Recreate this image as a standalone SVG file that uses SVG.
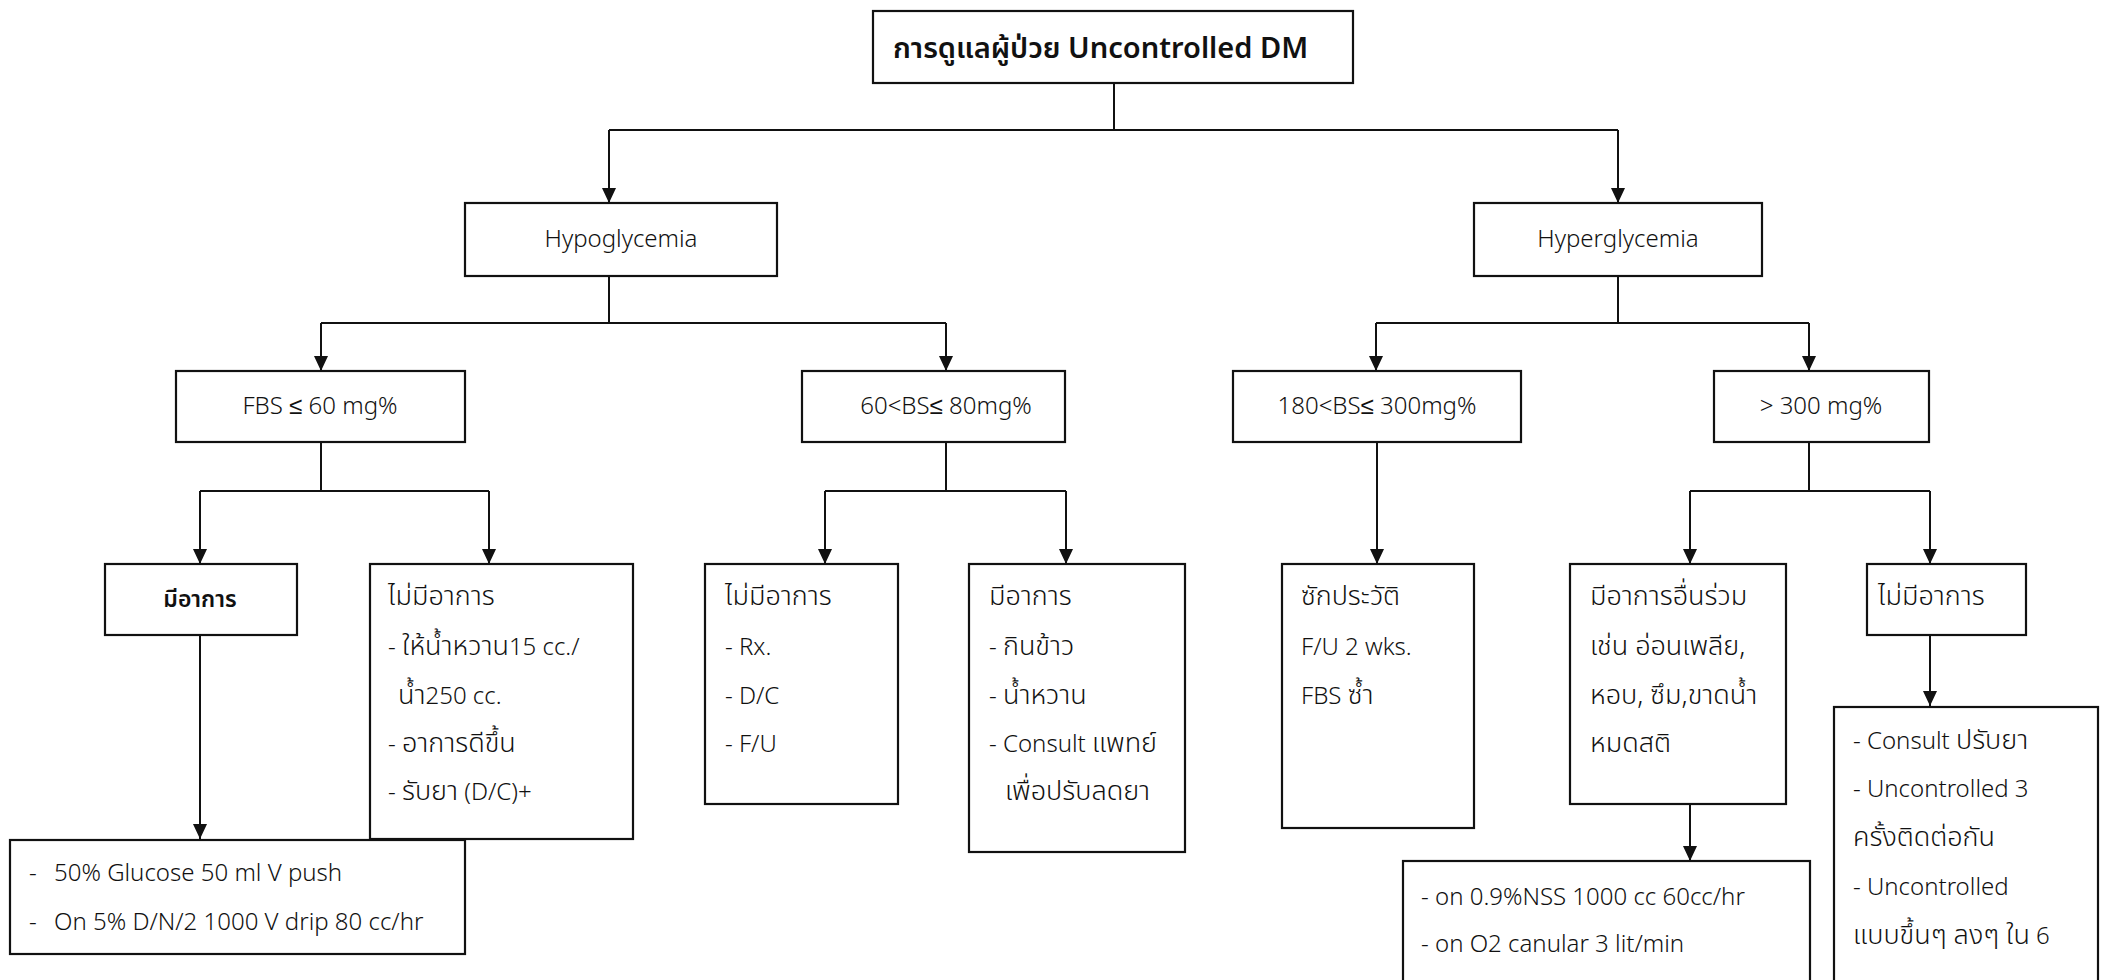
<svg xmlns="http://www.w3.org/2000/svg" width="2109" height="980" viewBox="0 0 2109 980">
<style>
.box{fill:#fff;stroke:#111;stroke-width:2.2}
.t{font-family:"Noto Sans","Noto Sans Thai","Leelawadee UI",sans-serif;font-size:24px;font-weight:300;fill:#111}
.th{font-size:27px}
.c{text-anchor:middle}
.b{font-weight:600;font-size:23px}
.title{font-size:29px;font-weight:600}
.ln{fill:none;stroke:#111;stroke-width:2}
</style>
<defs>
<marker id="ah" viewBox="0 0 15 14" refX="15" refY="7" markerWidth="15" markerHeight="14" markerUnits="userSpaceOnUse" orient="auto">
<path d="M0,0 L15,7 L0,14 Z" fill="#111"/>
</marker>
</defs>
<g id="connectors">
<path class="ln" d="M1114,83 V130 M609,130 H1618"/>
<path class="ln" d="M609,130 V203" marker-end="url(#ah)"/>
<path class="ln" d="M1618,130 V203" marker-end="url(#ah)"/>
<path class="ln" d="M609,276 V323 M321,323 H946"/>
<path class="ln" d="M321,323 V371" marker-end="url(#ah)"/>
<path class="ln" d="M946,323 V371" marker-end="url(#ah)"/>
<path class="ln" d="M1618,276 V323 M1376,323 H1809"/>
<path class="ln" d="M1376,323 V371" marker-end="url(#ah)"/>
<path class="ln" d="M1809,323 V371" marker-end="url(#ah)"/>
<path class="ln" d="M321,442 V491 M200,491 H489"/>
<path class="ln" d="M200,491 V564" marker-end="url(#ah)"/>
<path class="ln" d="M489,491 V564" marker-end="url(#ah)"/>
<path class="ln" d="M946,442 V491 M825,491 H1066"/>
<path class="ln" d="M825,491 V564" marker-end="url(#ah)"/>
<path class="ln" d="M1066,491 V564" marker-end="url(#ah)"/>
<path class="ln" d="M1377,442 V564" marker-end="url(#ah)"/>
<path class="ln" d="M1809,442 V491 M1690,491 H1930"/>
<path class="ln" d="M1690,491 V564" marker-end="url(#ah)"/>
<path class="ln" d="M1930,491 V564" marker-end="url(#ah)"/>
<path class="ln" d="M200,635 V839" marker-end="url(#ah)"/>
<path class="ln" d="M1690,803 V861" marker-end="url(#ah)"/>
<path class="ln" d="M1930,635 V706" marker-end="url(#ah)"/>
</g>
<g id="root">
<rect class="box" x="873" y="11" width="480" height="72"/>
<text class="t title" x="893" y="58">การดูแลผู้ป่วย Uncontrolled DM</text>
</g>
<g id="hypo">
<rect class="box" x="465" y="203" width="312" height="73"/>
<text class="t c" x="621" y="247">Hypoglycemia</text>
</g>
<g id="hyper">
<rect class="box" x="1474" y="203" width="288" height="73"/>
<text class="t c" x="1618" y="247">Hyperglycemia</text>
</g>
<g id="fbs60">
<rect class="box" x="176" y="371" width="289" height="71"/>
<text class="t c" x="320" y="414">FBS ≤ 60 mg%</text>
</g>
<g id="bs60-80">
<rect class="box" x="802" y="371" width="263" height="71"/>
<text class="t c" x="946" y="414">60&lt;BS≤ 80mg%</text>
</g>
<g id="bs180-300">
<rect class="box" x="1233" y="371" width="288" height="71"/>
<text class="t c" x="1377" y="414">180&lt;BS≤ 300mg%</text>
</g>
<g id="bs300">
<rect class="box" x="1714" y="371" width="215" height="71"/>
<text class="t c" x="1821" y="414">&gt; 300 mg%</text>
</g>
<g id="hypo-symptom">
<rect class="box" x="105" y="564" width="192" height="71"/>
<text class="t c b" x="200" y="607">มีอาการ</text>
</g>
<g id="hypo-nosymptom">
<rect class="box" x="370" y="564" width="263" height="275"/>
<text class="t th" x="388" y="605">ไม่มีอาการ</text>
<text class="t" x="388" y="655">- <tspan class="th">ให้น้ำหวาน</tspan>15 cc./</text>
<text class="t" x="398" y="704"><tspan class="th">น้ำ</tspan>250 cc.</text>
<text class="t" x="388" y="752">- <tspan class="th">อาการดีขึ้น</tspan></text>
<text class="t" x="388" y="800">- <tspan class="th">รับยา</tspan> (D/C)+</text>
</g>
<g id="glucose">
<rect class="box" x="10" y="840" width="455" height="114"/>
<text class="t" x="29" y="881">-<tspan x="54">50% Glucose 50 ml V push</tspan></text>
<text class="t" x="29" y="930">-<tspan x="54">On 5% D/N/2 1000 V drip 80 cc/hr</tspan></text>
</g>
<g id="mid-nosymptom">
<rect class="box" x="705" y="564" width="193" height="240"/>
<text class="t th" x="725" y="605">ไม่มีอาการ</text>
<text class="t" x="725" y="655">- Rx.</text>
<text class="t" x="725" y="704">- D/C</text>
<text class="t" x="725" y="752">- F/U</text>
</g>
<g id="mid-symptom">
<rect class="box" x="969" y="564" width="216" height="288"/>
<text class="t th" x="989" y="605">มีอาการ</text>
<text class="t" x="989" y="655">- <tspan class="th">กินข้าว</tspan></text>
<text class="t" x="989" y="704">- <tspan class="th">น้ำหวาน</tspan></text>
<text class="t" x="989" y="752">- Consult <tspan class="th">แพทย์</tspan></text>
<text class="t th" x="1005" y="800">เพื่อปรับลดยา</text>
</g>
<g id="history">
<rect class="box" x="1282" y="564" width="192" height="264"/>
<text class="t th" x="1301" y="605">ซักประวัติ</text>
<text class="t" x="1301" y="655">F/U 2 wks.</text>
<text class="t" x="1301" y="704">FBS <tspan class="th">ซ้ำ</tspan></text>
</g>
<g id="other-symptoms">
<rect class="box" x="1570" y="564" width="216" height="240"/>
<text class="t th" x="1590" y="605">มีอาการอื่นร่วม</text>
<text class="t th" x="1590" y="655">เช่น อ่อนเพลีย,</text>
<text class="t th" x="1590" y="704">หอบ, ซึม,ขาดน้ำ</text>
<text class="t th" x="1590" y="752">หมดสติ</text>
</g>
<g id="nss">
<rect class="box" x="1403" y="861" width="407" height="140"/>
<text class="t" x="1421" y="905">- on 0.9%NSS 1000 cc 60cc/hr</text>
<text class="t" x="1421" y="952">- on O2 canular 3 lit/min</text>
</g>
<g id="hyper-nosymptom">
<rect class="box" x="1867" y="564" width="159" height="71"/>
<text class="t th" x="1878" y="605">ไม่มีอาการ</text>
</g>
<g id="consult">
<rect class="box" x="1834" y="707" width="264" height="300"/>
<text class="t" x="1853" y="749">- Consult <tspan class="th">ปรับยา</tspan></text>
<text class="t" x="1853" y="797">- Uncontrolled 3</text>
<text class="t th" x="1853" y="846">ครั้งติดต่อกัน</text>
<text class="t" x="1853" y="895">- Uncontrolled</text>
<text class="t" x="1853" y="944"><tspan class="th">แบบขึ้นๆ ลงๆ ใน</tspan> 6</text>
</g>
</svg>
